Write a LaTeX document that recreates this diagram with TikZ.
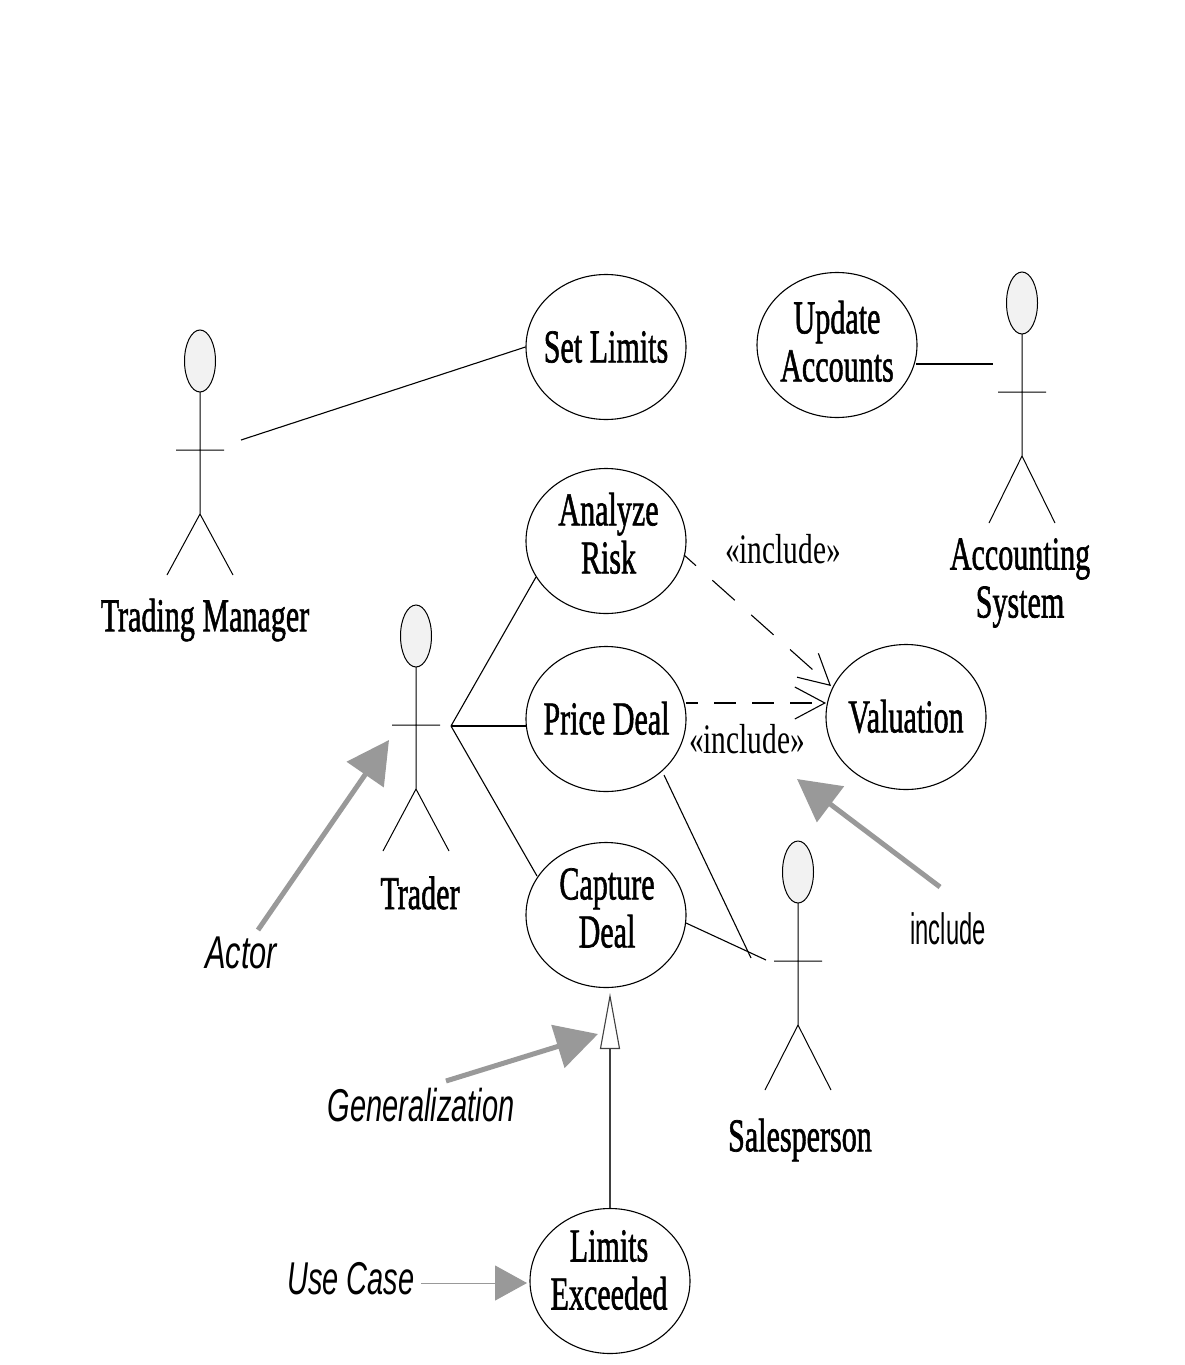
\documentclass[tikz,border=0pt]{standalone}
\usepackage{fontspec}
\setmainfont{Liberation Serif}
\setsansfont{Liberation Sans}
\newfontfamily\dfont{Liberation Serif}[FakeBold=1.5]
\usetikzlibrary{arrows.meta,shapes.geometric}
\definecolor{gr}{gray}{0.6}
\newcommand{\nm}[1]{\scalebox{0.64}[1]{#1}}
% dx, dy, lines: text of a use case, which does not size its ellipse
\newcommand{\tcell}[3]{\raisebox{#2pt}[0pt][0pt]{\makebox[0pt]{\hspace*{#1pt}\scalebox{0.64}[1]{\begin{tabular}{@{}c@{}}#3\end{tabular}}}}}
\tikzset{x=1pt,y=-1pt,
 uc/.style={draw,ellipse,line width=1.1pt,minimum width=160pt,minimum height=145pt,inner sep=0pt,font=\dfont\fontsize{47}{48}\selectfont},
 head/.style={draw,ellipse,line width=1pt,minimum width=31pt,minimum height=62pt,inner sep=0pt,fill=black!5},
 lbl/.style={font=\dfont\fontsize{47}{48}\selectfont,align=center,inner sep=0pt},
 stereo/.style={font=\fontsize{42}{44}\selectfont,inner sep=0pt},
 note/.style={font=\sffamily\itshape\fontsize{46}{48}\selectfont,inner sep=0pt},
 gline/.style={line width=1.1pt},
 limb/.style={line width=1pt},
 point/.style={draw=gr,line width=5pt,-{Triangle[length=42pt,width=44pt,fill=gr]}},
 dep/.style={line width=1.1pt,-{Straight Barb[length=30pt,width=32pt,line width=1.1pt]}}
}
\newcommand{\actor}[4]{% name, x, y of head centre, leg length
 \node[head] (#1h) at (#2,#3) {};
 \coordinate (#1n) at (#2,#3+31);
 \coordinate (#1hip) at (#2,#3+153);
 \coordinate (#1a) at (#2-24,#3+89);
 \coordinate (#1b) at (#2+24,#3+89);
 \coordinate (#1l) at (#2-33,#3+153+#4);
 \coordinate (#1r) at (#2+33,#3+153+#4);
 \draw[limb] (#1n)--(#1hip) (#1a)--(#1b) (#1l)--(#1hip)--(#1r);
}
\begin{document}
\begin{tikzpicture}
\useasboundingbox (0,0) rectangle (1184,1365);
\fill[white] (0,0) rectangle (1184,1365);
\actor{tm}{200}{361}{61}
\actor{as}{1022}{303}{67}
\actor{tr}{416}{636}{62}
\actor{sp}{798}{872}{65}
\node[uc] (setl) at (606,347) {\tcell{0}{-12}{Set Limits}};
\node[uc] (upd) at (837,345) {\tcell{0}{-9}{Update\\Accounts}};
\node[uc] (risk) at (606,541) {\tcell{5}{-5}{Analyze\\Risk}};
\node[uc] (price) at (606,719) {\tcell{1}{-12}{Price Deal}};
\node[uc] (val) at (906,717) {\tcell{0}{-12}{Valuation}};
\node[uc] (cap) at (606,915) {\tcell{2}{-5}{Capture\\Deal}};
\node[uc] (lim) at (610,1281) {\tcell{-2}{-1}{Limits\\Exceeded}};
\node[lbl] (ltm) at (205,620) {\nm{Trading Manager}};
\node[lbl] (las) at (1020,583) {\nm{Accounting}\\\nm{System}};
\node[lbl] (ltr) at (420,893) {\nm{Trader}};
\node[lbl] (lsp) at (800,1140) {\nm{Salesperson}};
\node[stereo] (i1) at (783,549) {\scalebox{0.70}[1]{«include»}};
\node[stereo] (i2) at (747,739) {\scalebox{0.70}[1]{«include»}};
\node[font=\sffamily\fontsize{44}{46}\selectfont,inner sep=0pt] (inc) at (948,929) {\scalebox{0.54}[1]{include}};
\node[note] (act) at (241,953) {\scalebox{0.67}[1]{Actor}};
\node[note] (gen) at (421,1105) {\scalebox{0.63}[1]{Generalization}};
\node[note] (ucn) at (351,1279) {\scalebox{0.63}[1]{Use Case}};
\coordinate (tmc) at (241,440);
\coordinate (asc) at (993,364);
\coordinate (trc) at (451,726);
\coordinate (spc) at (766,960);
\coordinate (upde) at (916,364);
\coordinate (pricew) at (527,726);
\coordinate (riskw) at (536,577);
\coordinate (capw) at (537,876);
\coordinate (prices) at (664,775);
\coordinate (spa) at (751,958);
\coordinate (cape) at (686,923);
\draw[gline] (tmc)--(setl.west);
\draw[gline] (upde)--(asc);
\draw[gline] (trc)--(riskw);
\draw[gline] (trc)--(pricew);
\draw[gline] (trc)--(capw);
\draw[gline] (prices)--(spa);
\draw[gline] (cape)--(spc);
\coordinate (d1s) at (684,555);
\coordinate (d2s) at (686,703);
\coordinate (d1e) at (831,686);
\coordinate (d2e) at (826,703);
\draw[dep,dash pattern=on 30pt off 22pt,dash phase=14pt] (d1s)--(d1e);
\draw[dep,dash pattern=on 22pt off 16pt,dash phase=10pt] (d2s)--(d2e);
\coordinate (gs) at (610,1208);
\coordinate (ge) at (610,993);
\draw[draw=black!75,line width=1.1pt,-{Triangle[open,length=56pt,width=20pt]}] (gs)--(ge);
\coordinate (a1s) at (258,930);\coordinate (a1e) at (389,740);
\draw[point] (a1s)--(a1e);
\coordinate (a2s) at (940,887);\coordinate (a2e) at (797,779);
\draw[point] (a2s)--(a2e);
\coordinate (a3s) at (446,1081);\coordinate (a3e) at (598,1034);
\draw[point] (a3s)--(a3e);
\coordinate (a4s) at (421,1283);\coordinate (a4e) at (527,1283);
\draw[draw=gr,line width=1pt,-{Triangle[length=32pt,width=35pt,fill=gr]}] (a4s)--(a4e);
\end{tikzpicture}
\end{document}
